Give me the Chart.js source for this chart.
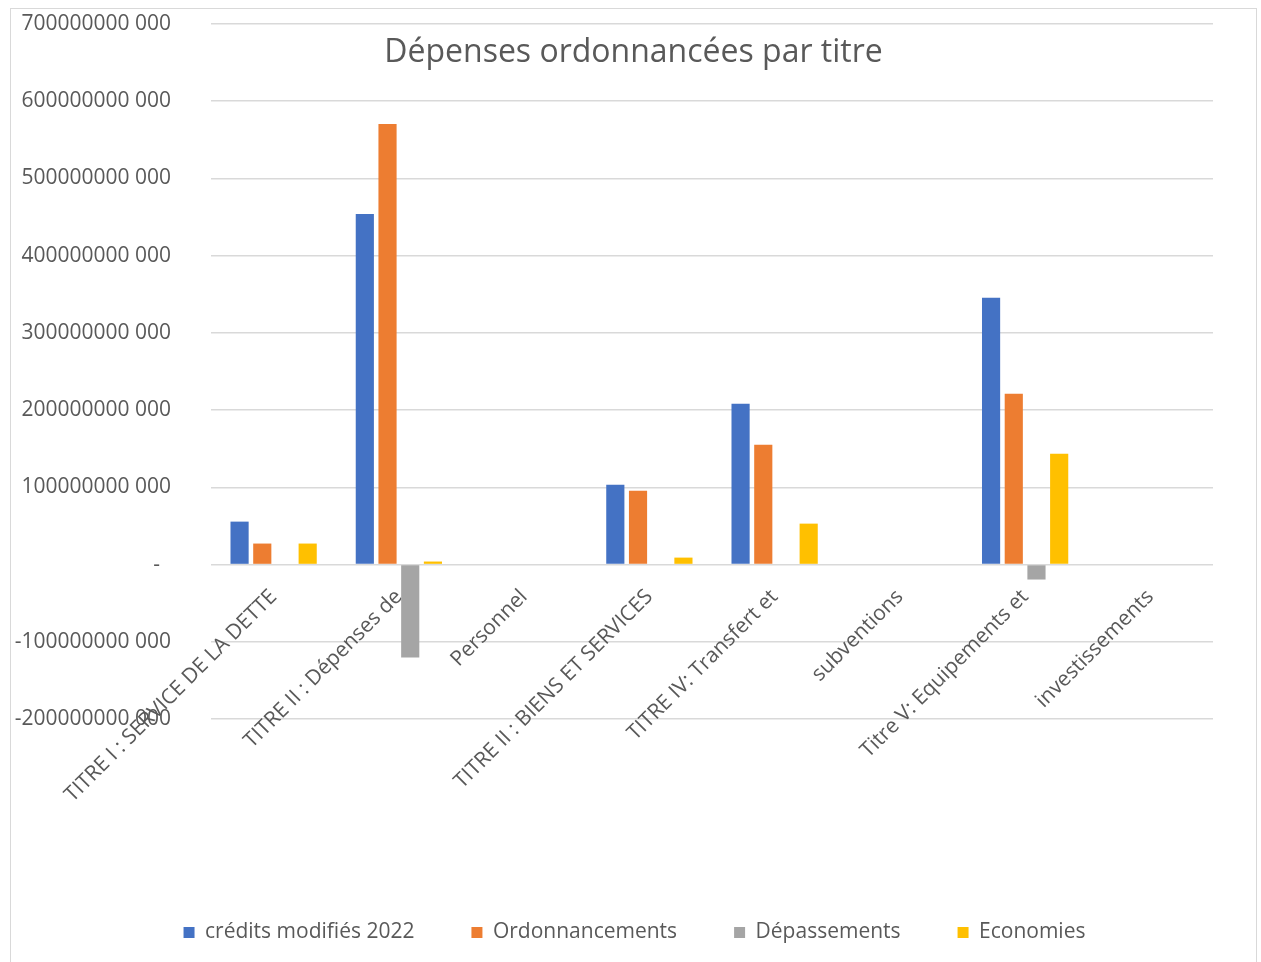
<!DOCTYPE html>
<html>
<head>
<meta charset="utf-8">
<script src="https://cdn.jsdelivr.net/npm/chart.js@4/dist/chart.umd.min.js"></script>
<style>
  html, body { margin: 0; padding: 0; background: #fff; }
  #wrap { position: relative; width: 1261px; height: 962px; }
  #frame { position: absolute; left: 10px; top: 8px; width: 1245px; height: 960px; border: 1px solid #d9d9d9; }
  canvas { position: absolute; left: 0; top: 0; }
</style>
</head>
<body>
<div id="wrap">
  <div id="frame"></div>
  <canvas id="depensesChart" width="1261" height="962"></canvas>
</div>
<script>
// Data
const categories = [
    "TITRE I : SERVICE DE LA DETTE",
    "TITRE II : Dépenses de",
    "Personnel",
    "TITRE II : BIENS ET SERVICES",
    "TITRE IV: Transfert et",
    "subventions",
    "Titre V: Equipements et",
    "investissements"
];
const creditsModifies = [55600000000, 454000000000, null, 103500000000, 208300000000, null, 345400000000, null];
const ordonnancements = [27200000000, 570500000000, null, 95700000000, 155200000000, null, 221200000000, null];
const depassements = [0, -120300000000, null, 0, 0, null, -19400000000, null];
const economies = [27200000000, 3900000000, null, 9000000000, 53000000000, null, 143600000000, null];

const yMin = -200000000000;
const yMax = 700000000000;
const yStep = 100000000000;

const titleText = "Dépenses ordonnancées par titre";
const textColor = "#595959";
const gridColor = "#d9d9d9";
const fontFamily = "'Open Sans', 'Noto Sans', sans-serif";

const legendPad = 57;

// Title drawn over the plot area, like the spreadsheet chart does
const titlePlugin = {
    id: 'overTitle',
    afterDraw(chart) {
        const ctx = chart.ctx;
        ctx.save();
        ctx.font = `32px ${fontFamily}`;
        ctx.fillStyle = textColor;
        ctx.textAlign = 'center';
        ctx.textBaseline = 'middle';
        ctx.fillText(titleText, chart.width / 2 + 3, chart.chartArea.top + 29);
        ctx.restore();
    }
};

// Legend is centred on the whole frame rather than the padded area
const legendShift = {
    id: 'legendShift',
    afterLayout(chart) {
        chart.legend.left += 28;
        chart.legend.right += 28;
    }
};

const ctx = document.getElementById('depensesChart').getContext('2d');
new Chart(ctx, {
    type: 'bar',
    data: {
        labels: categories,
        datasets: [
            { label: 'crédits modifiés 2022', data: creditsModifies, backgroundColor: '#4472C4' },
            { label: 'Ordonnancements', data: ordonnancements, backgroundColor: '#ED7D31' },
            { label: 'Dépassements', data: depassements, backgroundColor: '#A5A5A5' },
            { label: 'Economies', data: economies, backgroundColor: '#FFC000' }
        ]
    },
    options: {
        responsive: false,
        animation: false,
        layout: {
            padding: { left: 0, right: 48, top: 24, bottom: 9 }
        },
        datasets: {
            bar: { categoryPercentage: 0.725, barPercentage: 0.8 }
        },
        plugins: {
            title: { display: false },
            tooltip: { enabled: false },
            legend: {
                position: 'bottom',
                title: {
                    display: true,
                    text: '',
                    font: { size: 10, lineHeight: 1 },
                    padding: { top: 203 - legendPad - 10, bottom: 0 }
                },
                labels: {
                    boxWidth: 11,
                    boxHeight: 11,
                    padding: legendPad,
                    color: textColor,
                    font: { family: fontFamily, size: 21 }
                }
            }
        },
        scales: {
            x: {
                position: { y: 0 },
                grid: { display: false },
                border: { display: false },
                ticks: {
                    autoSkip: false,
                    minRotation: 45,
                    maxRotation: 45,
                    padding: 12,
                    color: textColor,
                    font: { family: fontFamily, size: 21 }
                }
            },
            y: {
                min: yMin,
                max: yMax,
                grid: { color: gridColor, lineWidth: 1.5, drawTicks: false },
                border: { display: false },
                afterFit(scale) {
                    scale.width = 211;
                    scale.paddingTop = 12;
                    scale.paddingBottom = 12;
                },
                ticks: {
                    stepSize: yStep,
                    padding: 40,
                    color: textColor,
                    font: { family: fontFamily, size: 21 },
                    callback: (v) => v === 0 ? '-  ' : (v / 1000).toFixed(0) + ' 000'
                }
            }
        }
    },
    plugins: [titlePlugin, legendShift]
});
</script>
</body>
</html>
